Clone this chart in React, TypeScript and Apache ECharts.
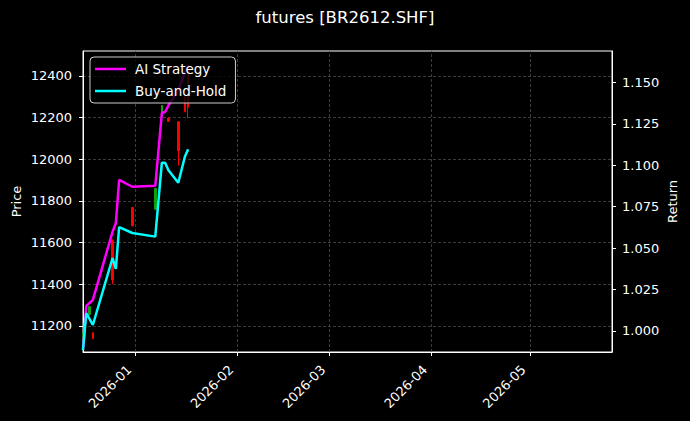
import React, { useEffect, useRef } from "react";
import * as echarts from "echarts";

const candleDates = ["2025-12-16", "2025-12-18", "2025-12-19", "2025-12-25", "2025-12-31", "2026-01-07", "2026-01-09", "2026-01-11", "2026-01-14", "2026-01-16", "2026-01-17"];
const openP = [11090, 11255, 11166, 11610, 11768, 11760, 12205, 12198, 12180, 12300, 12440];
const closeP = [11160, 11292, 11140, 11420, 11680, 11860, 12258, 12182, 12040, 12228, 12250];
const lowP = [11080, 11250, 11135, 11400, 11678, 11756, 12203, 12180, 11970, 12226, 12197];
const highP = [11165, 11295, 11168, 11615, 11770, 11862, 12261, 12200, 12182, 12303, 12450];

const lineDates = ["2025-12-16", "2025-12-17", "2025-12-19", "2025-12-25", "2025-12-26", "2025-12-27", "2025-12-31", "2026-01-07", "2026-01-09", "2026-01-10", "2026-01-11", "2026-01-14", "2026-01-16", "2026-01-17"];
const aiReturn = [0.9885, 1.0151, 1.0187, 1.0599, 1.0651, 1.0911, 1.087, 1.0876, 1.1315, 1.1322, 1.136, 1.1453, 1.1562, 1.1604];
const bhReturn = [0.9885, 1.0107, 1.0036, 1.044, 1.0374, 1.0627, 1.0591, 1.0569, 1.1015, 1.1015, 1.097, 1.0894, 1.1051, 1.1096];

const monthTicks = ["2026-01-01", "2026-02-01", "2026-03-01", "2026-04-01", "2026-05-01"];
const priceTicks = [11200, 11400, 11600, 11800, 12000, 12200, 12400];
const returnTicks = [1.0, 1.025, 1.05, 1.075, 1.1, 1.125, 1.15];

const xStart = "2025-12-16";
const xEnd = "2026-05-26";

const ts = (s: string) => {
  const [y, m, d] = s.split("-").map(Number);
  return Date.UTC(y, m - 1, d);
};

const FONT = "DejaVu Sans";

export default function App() {
  const ref = useRef<HTMLDivElement>(null);
  useEffect(() => {
    if (!ref.current) return;
    const chart = echarts.init(ref.current, undefined, { renderer: "svg" });
    const monthTs = monthTicks.map(ts);
    const gridColor = "#4a4a4a";
    const option: any = {
      animation: false,
      backgroundColor: "#000000",
      title: {
        text: "futures [BR2612.SHF]",
        left: "center",
        top: 9,
        padding: 0,
        textStyle: { color: "#ffffff", fontFamily: FONT, fontSize: 16.5, fontWeight: "normal" },
      },
      legend: {
        orient: "vertical",
        left: 90,
        top: 57,
        padding: [5, 9, 5, 5],
        itemGap: 8,
        itemWidth: 31,
        itemHeight: 2.5,
        icon: "rect",
        borderColor: "#cccccc",
        borderWidth: 1,
        borderRadius: 4,
        backgroundColor: "rgba(0,0,0,0.8)",
        textStyle: { color: "#ffffff", fontFamily: FONT, fontSize: 13.5, padding: [0, 0, 0, 4] },
        data: ["AI Strategy", "Buy-and-Hold"],
      },
      grid: {
        left: 83,
        right: 78,
        top: 51,
        bottom: 69,
        show: true,
        borderColor: "#ffffff",
        borderWidth: 1,
        backgroundColor: "transparent",
        outerBoundsMode: "none",
      },
      xAxis: {
        type: "value",
        min: ts(xStart),
        max: ts(xEnd),
        axisLine: { show: true, lineStyle: { color: "#ffffff", width: 1 } },
        axisTick: { show: true, length: 4, lineStyle: { color: "#ffffff" }, customValues: monthTs },
        splitLine: { show: false },
        axisLabel: {
          customValues: monthTs,
          rotate: 45,
          margin: 9,
          padding: [0, 9, 0, 0],
          color: "#ffffff",
          fontFamily: FONT,
          fontSize: 13,
          formatter: (v: number) => {
            const d = new Date(v);
            return `${d.getUTCFullYear()}-${String(d.getUTCMonth() + 1).padStart(2, "0")}`;
          },
        },
      },
      yAxis: [
        {
          type: "value",
          position: "left",
          min: 11074,
          max: 12520,
          name: "Price",
          nameLocation: "middle",
          nameGap: 60,
          nameRotate: 90,
          nameMoveOverlap: false,
          nameTextStyle: { color: "#ffffff", fontFamily: FONT, fontSize: 13 },
          axisLine: { show: true, lineStyle: { color: "#ffffff" } },
          axisTick: { show: true, length: 4, lineStyle: { color: "#ffffff" }, customValues: priceTicks },
          axisLabel: {
            customValues: priceTicks,
            margin: 11,
            color: "#ffffff",
            fontFamily: FONT,
            fontSize: 13,
            formatter: (v: number) => String(v),
          },
          splitLine: { show: false },
        },
        {
          type: "value",
          position: "right",
          min: 0.9873,
          max: 1.1689,
          name: "Return",
          nameLocation: "middle",
          nameGap: 54,
          nameRotate: 90,
          nameMoveOverlap: false,
          nameTextStyle: { color: "#ffffff", fontFamily: FONT, fontSize: 13 },
          axisLine: { show: true, lineStyle: { color: "#ffffff" } },
          axisTick: { show: true, length: 4, lineStyle: { color: "#ffffff" }, customValues: returnTicks },
          axisLabel: {
            customValues: returnTicks,
            margin: 10,
            color: "#ffffff",
            fontFamily: FONT,
            fontSize: 13,
            formatter: (v: number) => v.toFixed(3),
          },
          splitLine: { show: false },
        },
      ],
      series: [
        {
          type: "candlestick",
          name: "Price",
          xAxisIndex: 0,
          yAxisIndex: 0,
          barWidth: 2,
          itemStyle: {
            color: "#10a010",
            color0: "#ff0000",
            borderColor: "#10a010",
            borderColor0: "#ff0000",
            borderWidth: 1,
          },
          data: candleDates.map((d, i) => [ts(d), openP[i], closeP[i], lowP[i], highP[i]]),
          markLine: {
            silent: true,
            z: 0,
            symbol: ["none", "none"],
            label: { show: false },
            emphasis: { disabled: true },
            lineStyle: { color: gridColor, type: [3, 2], width: 0.8 },
            data: [
              ...priceTicks.map((v) => ({ yAxis: v })),
              ...monthTs.map((v) => ({ xAxis: v })),
            ],
          },
        },
        {
          type: "line",
          name: "AI Strategy",
          xAxisIndex: 0,
          yAxisIndex: 1,
          showSymbol: false,
          color: "#ff00ff",
          lineStyle: { color: "#ff00ff", width: 2.5 },
          data: lineDates.map((d, i) => [ts(d), aiReturn[i]]),
        },
        {
          type: "line",
          name: "Buy-and-Hold",
          xAxisIndex: 0,
          yAxisIndex: 1,
          showSymbol: false,
          color: "#00ffff",
          lineStyle: { color: "#00ffff", width: 2.5 },
          data: lineDates.map((d, i) => [ts(d), bhReturn[i]]),
        },
      ],
    };
    chart.setOption(option);
    return () => chart.dispose();
  }, []);
  return (
    <div
      ref={ref}
      style={{ position: "fixed", left: 0, top: 0, width: 690, height: 421, background: "#000" }}
    />
  );
}
